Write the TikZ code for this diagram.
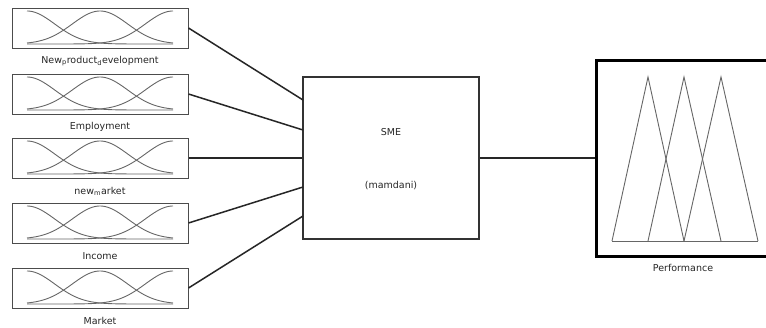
\documentclass[tikz,border=0pt]{standalone}
\usepackage{fontspec}
\setmainfont{DejaVu Sans}
\begin{document}
\begin{tikzpicture}[x=1pt,y=-1pt,
  inbox/.style={draw=black!70, line width=1pt, minimum width=176pt, minimum height=40pt, inner sep=0pt},
  lbl/.style={font=\fontsize{9.5}{11}\selectfont, text=black!85, inner sep=0pt},
  mf/.style={draw=black!60, line width=0.9pt},
  conn/.style={draw=black!85, line width=1.5pt}]
\useasboundingbox (0,0) rectangle (766,327);
\clip (0,0) rectangle (766,327);
\fill[white] (0,0) rectangle (766,327);
% input membership-function boxes
\foreach \i/\yy/\t in {1/28/{New\textsubscript{p}roduct\textsubscript{d}evelopment},
                      2/94/{Employment},
                      3/158/{new\textsubscript{m}arket},
                      4/223/{Income},
                      5/288/{Market}}{
  \node[inbox] (in\i) at (100,\yy) {};
  \draw[mf] plot[domain=27:173, samples=90, smooth] (\x, {\yy+16-33*exp(-0.5*((\x-27)/27.7)^2)});
  \draw[mf] plot[domain=27:173, samples=90, smooth] (\x, {\yy+16-33*exp(-0.5*((\x-100)/27.7)^2)});
  \draw[mf] plot[domain=27:173, samples=90, smooth] (\x, {\yy+16-33*exp(-0.5*((\x-173)/27.7)^2)});
  \node[lbl] (l\i) at (100,\yy+33) {\t};
}
% system box
\node[draw=black!80, line width=1.5pt, minimum width=176pt, minimum height=162pt, inner sep=0pt] (sme) at (391,158) {};
\node[lbl] (smet) at (391,132) {SME};
\node[lbl] (mam) at (391,186) {(mamdani)};
\coordinate (s1) at (303,100);
\coordinate (s2) at (303,130);
\coordinate (s4) at (303,187);
\coordinate (s5) at (303,216);
\draw[conn] (in1.east) -- (s1);
\draw[conn] (in2.east) -- (s2);
\draw[conn] (in3.east) -- (sme.west);
\draw[conn] (in4.east) -- (s4);
\draw[conn] (in5.east) -- (s5);
% output box
\node[draw=black, line width=3pt, minimum width=180pt, minimum height=196pt, inner sep=0pt] (perf) at (686,158) {};
\draw[conn] (sme.east) -- (perf.west);
\draw[mf, line join=miter] (612,241) -- (648,77) -- (684,241);
\draw[mf, line join=miter] (648,241) -- (684,77) -- (721,241);
\draw[mf, line join=miter] (684,241) -- (721,77) -- (758,241);
\draw[mf] (612,241) -- (758,241);
\node[lbl] (perfl) at (683,268) {Performance};
\end{tikzpicture}
\end{document}
